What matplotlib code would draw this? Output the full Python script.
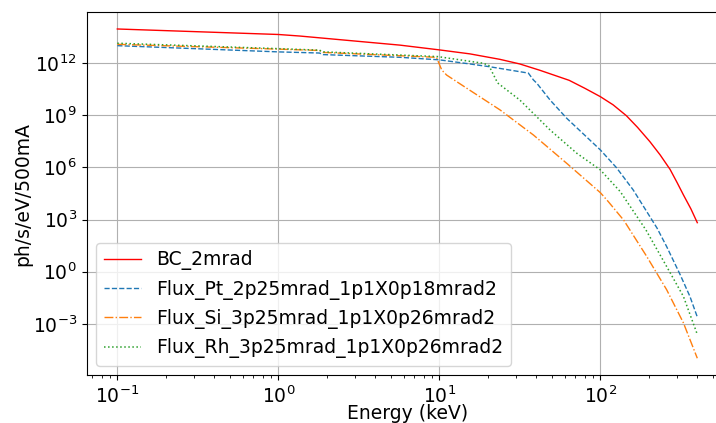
import matplotlib
matplotlib.use('Agg')
import matplotlib.pyplot as plt
import matplotlib.ticker as mticker

plt.rcParams['font.family'] = 'DejaVu Sans'
plt.rcParams['font.size'] = 13.5

# values (energy in keV, flux in ph/s/eV/500mA)
bc_energy = [0.1, 1.0, 1.36, 5.7, 10, 15.5, 23.8, 31.6, 42, 64, 80, 100, 120, 145, 170, 203, 235, 271, 300, 328, 365, 400]
bc_flux = [8.9e13, 4.3e13, 3.5e13, 1.05e13, 5.6e12, 3.3e12, 1.6e12, 8.7e11, 3.8e11, 1.0e11, 3.5e10, 1.15e10,
           3.9e9, 9.3e8, 2.0e8, 3.0e7, 5.2e6, 7.6e5, 1.3e5, 2.6e4, 4.1e3, 6.6e2]

pt_energy = [0.1, 1.0, 1.8, 1.9, 5.7, 10, 15.5, 20.6, 35.7, 38.4, 40.3, 48.7, 61.8, 100, 126, 160, 225, 258, 313, 360, 400]
pt_flux = [9.8e12, 4.3e12, 3.7e12, 3.0e12, 2.1e12, 1.5e12, 8.7e11, 6.0e11, 2.6e11, 1.05e11, 6.8e10, 7.4e9,
           6.6e8, 1.0e7, 9.5e5, 5.0e4, 3.2e2, 28, 0.68, 0.038, 2.5e-3]

si_energy = [0.1, 1.0, 1.8, 1.9, 9.6, 10.35, 11.1, 14.8, 23.8, 38.4, 61.8, 100, 112, 140, 160, 194, 258, 328, 400]
si_flux = [1.17e13, 6.2e12, 5.2e12, 4.0e12, 2.1e12, 3.9e11, 2.0e11, 3.5e10, 2.0e9, 7.2e7, 1.7e6, 3.5e4,
           1.07e4, 8.9e2, 1.26e2, 7.6, 0.093, 1.15e-3, 1.07e-5]

rh_energy = [0.1, 1.0, 1.8, 1.9, 9.8, 18.8, 20.3, 23.0, 31.6, 48.7, 71.3, 100, 133, 192, 258, 328, 400]
rh_flux = [1.35e13, 6.6e12, 5.4e12, 4.3e12, 2.3e12, 9.5e11, 7.1e11, 7.1e10, 7.4e9, 1.4e8, 6.5e6, 7.1e5,
           4.0e4, 2.5e2, 2.0, 0.038, 2.5e-4]

labels = ['BC_2mrad', 'Flux_Pt_2p25mrad_1p1X0p18mrad2',
          'Flux_Si_3p25mrad_1p1X0p26mrad2', 'Flux_Rh_3p25mrad_1p1X0p26mrad2']

fig = plt.figure(figsize=(7.16, 4.23), dpi=100)
# the saved reference is cut on the right, so the axes run past the figure edge
ax = fig.add_axes([0.1211, 0.1128, 0.8955, 0.8582])

ax.plot(bc_energy, bc_flux, color='red', linestyle='-', linewidth=1.0, label=labels[0])
ax.plot(pt_energy, pt_flux, color='tab:blue', linestyle='--', linewidth=1.0, label=labels[1])
ax.plot(si_energy, si_flux, color='tab:orange', linestyle='-.', linewidth=1.0, label=labels[2])
ax.plot(rh_energy, rh_flux, color='tab:green', linestyle=':', linewidth=1.1, label=labels[3])

ax.set_xscale('log')
ax.set_yscale('log')
ax.set_xlim(10 ** -1.19, 10 ** 2.792)
ax.set_ylim(10 ** -5.95, 10 ** 14.91)
ax.set_yticks([1e-3, 1e0, 1e3, 1e6, 1e9, 1e12])
ax.yaxis.set_minor_locator(mticker.NullLocator())

ax.grid(True, which='major', color='#b0b0b0', linewidth=0.8)
ax.set_xlabel('Energy (keV)', labelpad=-1.5)
ax.set_ylabel('ph/s/eV/500mA', labelpad=0.5)
ax.legend(loc='lower left')

fig.savefig('out.png', dpi=100)
